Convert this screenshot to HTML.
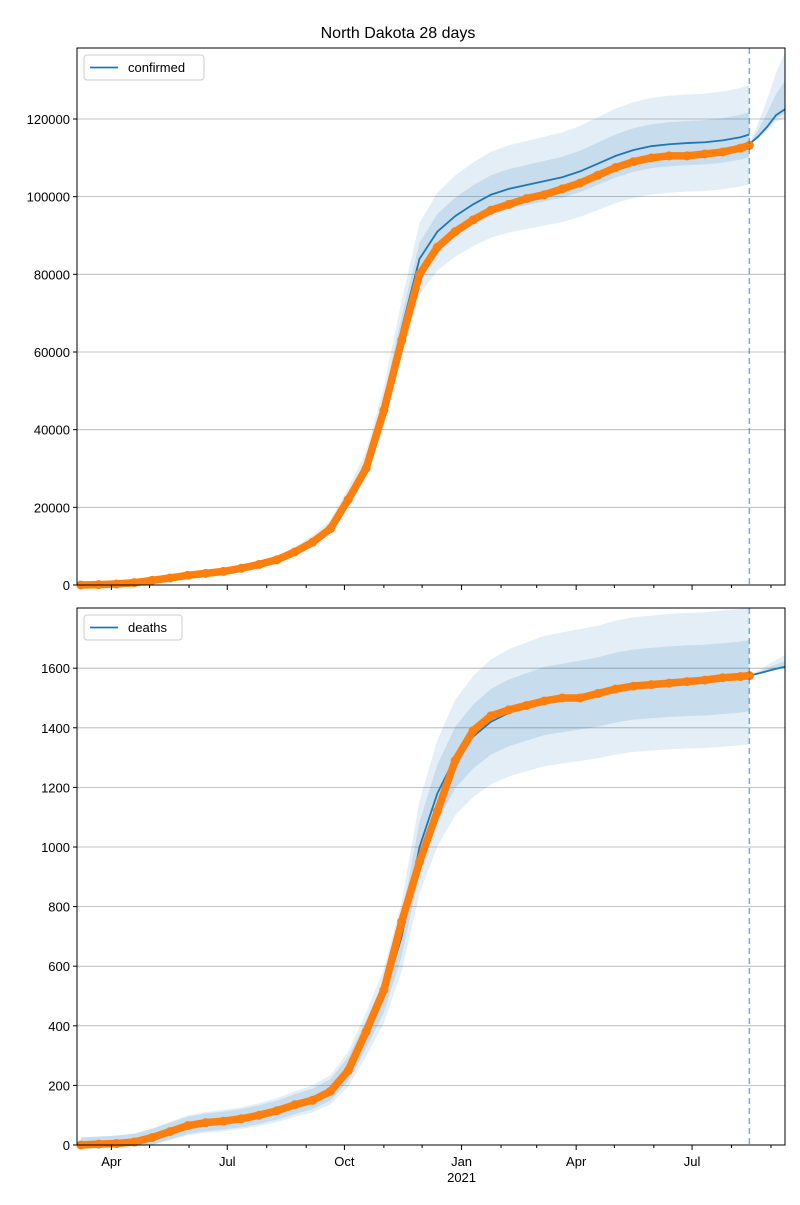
<!DOCTYPE html>
<html><head><meta charset="utf-8">
<style>
body{margin:0;background:#fff;font-family:"Liberation Sans",sans-serif;}
svg text{font-family:"Liberation Sans",sans-serif;}
</style></head>
<body>
<svg id="chart" width="800" height="1200" xmlns="http://www.w3.org/2000/svg">
<text x="398" y="38" text-anchor="middle" font-size="16">North Dakota 28 days</text>
</svg>
<script>
// biweekly samples starting 2020-03-08
const startDate = "2020-03-08";
const confirmedObs = [0,100,250,600,1200,1800,2500,3000,3500,4300,5300,6500,8500,11000,14500,22000,30000,45000,63000,80000,87000,91000,94000,96500,98000,99500,100500,102000,103500,105500,107500,109000,110000,110500,110500,111000,111500,112500];
const confirmedModel = [0,120,300,700,1300,1900,2600,3100,3600,4400,5500,6800,8800,11500,15000,22500,31000,46000,66000,84000,91000,95000,98000,100500,102000,103000,104000,105000,106500,108500,110500,112000,113000,113500,113800,114000,114500,115300];
const confirmedEndObs = 113200;
const confirmedEndModel = 116000;
const confirmedForecast = [113500,115500,118000,121000,122500];
const deathsObs = [0,3,5,10,25,45,65,75,80,88,100,115,135,150,180,250,380,520,750,950,1120,1290,1390,1440,1460,1475,1490,1500,1500,1515,1530,1540,1545,1550,1555,1560,1568,1572];
const deathsModel = [0,3,6,12,27,47,66,76,82,90,102,117,137,155,185,255,370,500,700,1000,1180,1300,1370,1420,1450,1470,1490,1500,1510,1520,1535,1545,1550,1555,1558,1560,1565,1570];
const deathsEndObs = 1575;
const deathsEndModel = 1575;
const deathsForecast = [1575,1582,1590,1598,1605];
const confirmedTicks = [0,20000,40000,60000,80000,100000,120000];
const deathsTicks = [0,200,400,600,800,1000,1200,1400,1600];
const majorTicks = [["2020-04-01","Apr"],["2020-07-01","Jul"],["2020-10-01","Oct"],["2021-01-01","Jan"],["2021-04-01","Apr"],["2021-07-01","Jul"]];
const endObsDate = "2021-08-15";

const NS="http://www.w3.org/2000/svg";
const svg=document.getElementById('chart');
const D0=Date.parse("2020-03-05"), D1=Date.parse("2021-09-12");
const X0=77,X1=785;
function xs(t){return X0+(t-D0)/(D1-D0)*(X1-X0);}
function day(i){return Date.parse(startDate)+i*14*864e5;}
function el(tag,attrs,parent){const e=document.createElementNS(NS,tag);for(const k in attrs)e.setAttribute(k,attrs[k]);(parent||svg).appendChild(e);return e;}
const endT=Date.parse(endObsDate);

function panel(name,top,bottom,ymax,ticks,obs,model,endObs,endModel,fc,inner,outer,abs,label,legW,fInner,fOuter){
  const ys=v=>bottom-v/ymax*(bottom-top);
  const g=el('g',{});
  
  
  ticks.forEach(v=>{
    const gl=el('line',{x1:X0,x2:X1,y1:ys(v),y2:ys(v),stroke:'#b0b0b0','stroke-width':0.8},g);
    
    
    el('line',{x1:X0-4,x2:X0,y1:ys(v),y2:ys(v),stroke:'#000'},g);
    const t=el('text',{x:X0-7,y:ys(v)+5,'text-anchor':'end','font-size':13},g);
    t.textContent=v;
    
    
  });
  const pts=model.map((v,i)=>[xs(day(i)),v]).concat([[xs(endT),endModel]]);
  const fpts=fc.map((v,i)=>[xs(endT+i*7*864e5),v]);
  function band(arr,f){
    const up=arr.map(p=>[p[0],ys(p[1]*(1+f)+abs)]);
    const lo=arr.map(p=>[p[0],ys(Math.max(0,p[1]*(1-f)-abs))]);
    return up.concat(lo.reverse()).map(p=>p.join(',')).join(' ');
  }
  function fband(arr,fu){
    const n=arr.length-1;
    const up=arr.map((p,i)=>[p[0],ys(p[1]*(1+fu*i/n))]);
    const lo=arr.map((p,i)=>[p[0],ys(p[1]*(1-fu*0.15*i/n))]);
    return up.concat(lo.reverse()).map(p=>p.join(',')).join(' ');
  }
  [[outer,fOuter,0.12],[inner,fInner,0.15]].forEach(([f,ff,op])=>{
    const b=el('polygon',{points:band(pts,f),fill:'#1f77b4','fill-opacity':op},g);
    
    
    const b2=el('polygon',{points:fband(fpts,ff),fill:'#1f77b4','fill-opacity':op},g);
    
    
  });
  const ml=el('polyline',{points:pts.map(p=>p[0]+','+ys(p[1])).join(' '),fill:'none',stroke:'#1f77b4','stroke-width':1.8},g);
  
  
  const fl=el('polyline',{points:fpts.map(p=>p[0]+','+ys(p[1])).join(' '),fill:'none',stroke:'#1f77b4','stroke-width':1.8},g);
  
  
  const opts=obs.map((v,i)=>[xs(day(i)),ys(v)]).concat([[xs(endT),ys(endObs)]]);
  const ol=el('polyline',{points:opts.map(p=>p.join(',')).join(' '),fill:'none',stroke:'#ff7f0e','stroke-width':7.5,'stroke-linecap':'round','stroke-linejoin':'round'},g);
  
  
  opts.forEach(p=>{
    const c=el('circle',{cx:p[0],cy:p[1],r:4.5,fill:'#ff7f0e'},g);
    
    
  });
  const vl=el('line',{x1:xs(endT),x2:xs(endT),y1:top,y2:bottom,stroke:'#1f77b4','stroke-opacity':0.6,'stroke-width':1.5,'stroke-dasharray':'6,4'},g);
  
  
  for(let y=2020;y<=2021;y++)for(let m=0;m<12;m++){
    const t=Date.UTC(y,m,1); if(t<D0||t>D1)continue;
    const mj=m%3==0;
    el('line',{x1:xs(t),x2:xs(t),y1:bottom,y2:bottom+(mj?5:3),stroke:'#000'},g);
  }
  const fr=el('rect',{x:X0,y:top,width:X1-X0,height:bottom-top,fill:'none',stroke:'#000','stroke-width':1},g);
  
  
  const lg=el('g',{},g);
  
  
  el('rect',{x:84,y:top+7,width:legW,height:25,rx:3,fill:'#fff',stroke:'#ccc'},lg);
  el('line',{x1:90,x2:118,y1:top+19.5,y2:top+19.5,stroke:'#1f77b4','stroke-width':1.8},lg);
  const lt=el('text',{x:128,y:top+24,'font-size':13},lg);
  lt.textContent=label;
  return ys;
}
panel('confirmed',48,585,138280,confirmedTicks,confirmedObs,confirmedModel,confirmedEndObs,confirmedEndModel,confirmedForecast,0.05,0.11,0,'confirmed',120,0.06,0.12);
panel('deaths',608,1145,1802,deathsTicks,deathsObs,deathsModel,deathsEndObs,deathsEndModel,deathsForecast,0.06,0.13,25,'deaths',98,0.012,0.025);
majorTicks.forEach(([d,l])=>{
  const t=el('text',{x:xs(Date.parse(d)),y:1166,'text-anchor':'middle','font-size':13});
  t.textContent=l;
  
  
});
const yr=el('text',{x:xs(Date.parse("2021-01-01")),y:1182,'text-anchor':'middle','font-size':13});
yr.textContent='2021';


</script>
</body></html>
